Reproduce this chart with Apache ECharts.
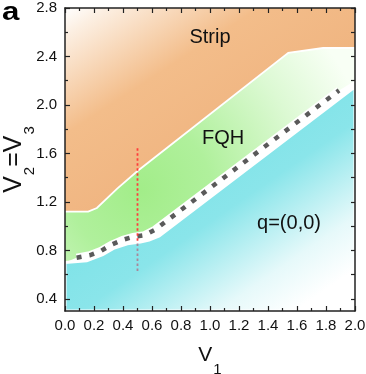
<!DOCTYPE html>
<html><head><meta charset="utf-8">
<script src="https://cdn.jsdelivr.net/npm/echarts@6/dist/echarts.min.js"></script>
<style>html,body{margin:0;padding:0;background:#fff}#c{width:366px;height:374px}</style>
</head><body><div id="c"></div>
<script>
// ---- data ----
const X_MIN = 0, X_MAX = 2.0, Y_MIN = 0.3, Y_MAX = 2.8;
const yMajorTicks = [0.4, 0.8, 1.2, 1.6, 2.0, 2.4, 2.8];
const yMinorTicks = [0.6, 1.0, 1.4, 1.8, 2.2, 2.6];
const yRightTicks = [0.4, 0.6, 0.8, 1.0, 1.2, 1.4, 1.6, 1.8, 2.0, 2.2, 2.4, 2.6, 2.8];
// Strip / FQH boundary
const stripLowerV1  = [0, 0.16, 0.22, 0.36, 0.5, 1.54, 1.78, 2.0];
const stripLowerV23 = [1.12, 1.12, 1.15, 1.31, 1.455, 2.43, 2.47, 2.47];
// lower edge of the FQH (green) region
const fqhLowerV1  = [0, 0.08, 0.17, 0.25, 0.32, 0.40, 0.47, 0.55, 0.62, 1.89, 2.0];
const fqhLowerV23 = [0.70, 0.74, 0.76, 0.797, 0.847, 0.888, 0.912, 0.926, 0.97, 2.12, 2.2];
// FQH / q=(0,0) boundary (top of cyan region)
const q00UpperV1  = [0, 0.15, 0.26, 0.34, 0.43, 0.52, 0.58, 0.65, 2.0];
const q00UpperV23 = [0.70, 0.715, 0.765, 0.82, 0.855, 0.87, 0.885, 0.92, 2.15];
// dashed transition line
const dashV1  = [0.08, 0.17, 0.25, 0.32, 0.40, 0.47, 0.55, 0.62, 1.89];
const dashV23 = [0.74, 0.76, 0.797, 0.847, 0.888, 0.912, 0.926, 0.97, 2.12];
// vertical cut at V1 = 0.5
const cutV1 = 0.5;
const cutRedV23 = [0.88, 1.66];
const cutGreyV23 = [0.63, 0.87];
// region labels
const regionNames = ['Strip', 'FQH', 'q=(0,0)'];
const regionV1 = [1.0, 1.09, 1.545];
const regionV23 = [2.56, 1.72, 1.02];

const FONT = '"Liberation Sans", Arial, Helvetica, sans-serif';

const chart = echarts.init(document.getElementById('c'), null, {renderer: 'canvas'});

function renderItem(params, api) {
  const c = (x, y) => api.coord([x, y]);
  const pts = (xs, ys) => xs.map((x, i) => c(x, ys[i]));
  const U = pts(stripLowerV1, stripLowerV23);
  const G = pts(fqhLowerV1, fqhLowerV23);
  const C = pts(q00UpperV1, q00UpperV23);
  const D = pts(dashV1, dashV23);
  const tl = c(X_MIN, Y_MAX), tr = c(X_MAX, Y_MAX), bl = c(X_MIN, Y_MIN), br = c(X_MAX, Y_MIN);

  const og0 = c(0, 2.8), og1 = c(0.724, 1.468);
  const orangeFill = new echarts.graphic.LinearGradient(og0[0], og0[1], og1[0], og1[1], [
    {offset: 0, color: '#ffffff'}, {offset: 0.12, color: '#fcefe2'},
    {offset: 0.55, color: '#f3bd8a'}, {offset: 1, color: '#f0b581'}], true);
  const gc = c(0.52, 1.3);
  const greenFill = new echarts.graphic.RadialGradient(gc[0], gc[1], 235, [
    {offset: 0, color: '#a2ed89'}, {offset: 0.3, color: '#b0f09c'},
    {offset: 0.7, color: '#dcf9d3'}, {offset: 1, color: '#f8fff5'}], true);
  const cg0 = c(0.59, 1.22), cg1 = c(1.27, 0.04);
  const cyanFill = new echarts.graphic.LinearGradient(cg0[0], cg0[1], cg1[0], cg1[1], [
    {offset: 0, color: '#80e3e8'}, {offset: 0.3, color: '#8ae5ea'},
    {offset: 0.75, color: '#e6f9fa'}, {offset: 1, color: '#ffffff'}], true);

  const children = [
    {type: 'polygon', shape: {points: [...U, tr, tl]}, style: {fill: orangeFill}},
    {type: 'polygon', shape: {points: [...G, ...U.slice().reverse()]}, style: {fill: greenFill}},
    {type: 'polygon', shape: {points: [...C, br, bl]}, style: {fill: cyanFill, stroke: '#ffffff', lineWidth: 3}},
    {type: 'polyline', shape: {points: U}, style: {stroke: '#ffffff', lineWidth: 1.8, fill: null}},
    {type: 'polyline', shape: {points: D}, style: {stroke: '#ffffff', lineWidth: 8, fill: null}},
    {type: 'polyline', shape: {points: D}, style: {stroke: '#5a5a5a', lineWidth: 4.5, lineDash: [5, 8], lineCap: 'butt', fill: null}},
    {type: 'line', shape: (function(){const a=c(cutV1,cutGreyV23[0]), b=c(cutV1,cutGreyV23[1]); return {x1:a[0],y1:a[1],x2:b[0],y2:b[1]};})(),
      style: {stroke: '#a8879a', lineWidth: 1.8, lineDash: [2.5, 2.5]}},
    {type: 'line', shape: (function(){const a=c(cutV1,cutRedV23[0]), b=c(cutV1,cutRedV23[1]); return {x1:a[0],y1:a[1],x2:b[0],y2:b[1]};})(),
      style: {stroke: '#ff3b3b', lineWidth: 1.8, lineDash: [2.5, 2.5]}}
  ];
  regionNames.forEach((t, i) => {
    const p = c(regionV1[i], regionV23[i]);
    children.push({type: 'text', x: p[0], y: p[1], style: {text: t, fill: '#111', font: '20px ' + FONT, align: 'center', verticalAlign: 'middle'}});
  });
  return {type: 'group', children};
}

const lineStyle = {color: '#222', width: 1.5};
const tickStyle = {color: '#222', width: 1.2};
const labelFmt = v => Number(v).toFixed(1);

chart.setOption({
  animation: false,
  backgroundColor: '#ffffff',
  grid: {left: 65, right: 11, top: 8, bottom: 63, containLabel: false, outerBoundsMode: 'none'},
  xAxis: [
    {type: 'value', min: X_MIN, max: X_MAX, interval: 0.2, position: 'bottom', z: 10,
     axisLine: {show: true, onZero: false, lineStyle},
     axisTick: {show: true, inside: true, length: 5, lineStyle: tickStyle},
     minorTick: {show: true, splitNumber: 2, length: 3, lineStyle: tickStyle},
     splitLine: {show: false}, minorSplitLine: {show: false},
     axisLabel: {margin: 7, fontSize: 15, color: '#111', fontFamily: FONT, formatter: labelFmt},
     name: '{v|V}{s|1}', nameLocation: 'middle', nameGap: 34, nameMoveOverlap: false,
     nameTextStyle: {color: '#111', fontFamily: FONT, rich: {
       v: {fontSize: 21, fontFamily: FONT, color: '#111', lineHeight: 22, verticalAlign: 'top'},
       s: {fontSize: 15, fontFamily: FONT, color: '#111', lineHeight: 14, padding: [17, 0, 0, 1], verticalAlign: 'top'}}}},
    {type: 'value', min: X_MIN, max: X_MAX, interval: 0.2, position: 'top', z: 10,
     axisLine: {show: true, onZero: false, lineStyle},
     axisTick: {show: true, inside: true, length: 5, lineStyle: tickStyle},
     minorTick: {show: true, splitNumber: 2, length: 3, lineStyle: tickStyle},
     splitLine: {show: false}, minorSplitLine: {show: false}, axisLabel: {show: false}}
  ],
  yAxis: [
    {type: 'value', min: Y_MIN, max: Y_MAX, position: 'left', z: 10,
     axisLine: {show: true, onZero: false, lineStyle},
     axisTick: {show: true, inside: true, length: 5, lineStyle: tickStyle, customValues: yMajorTicks},
     axisLabel: {margin: 8, fontSize: 15, color: '#111', fontFamily: FONT, formatter: labelFmt, customValues: yMajorTicks},
     splitLine: {show: false},
     name: '{v|V}{s|2}{v|=V}{s|3}', nameLocation: 'middle', nameGap: 37, nameMoveOverlap: false,
     nameTextStyle: {color: '#111', fontFamily: FONT, rich: {
       v: {fontSize: 25, fontFamily: FONT, color: '#111', lineHeight: 26, verticalAlign: 'top'},
       s: {fontSize: 15, fontFamily: FONT, color: '#111', lineHeight: 14, padding: [20, 0, 0, 1], verticalAlign: 'top'}}}},
    {type: 'value', min: Y_MIN, max: Y_MAX, position: 'left', z: 10,
     axisLine: {show: false},
     axisTick: {show: true, inside: true, length: 3, lineStyle: tickStyle, customValues: yMinorTicks},
     axisLabel: {show: false}, splitLine: {show: false}},
    {type: 'value', min: Y_MIN, max: Y_MAX, position: 'right', z: 10,
     axisLine: {show: true, onZero: false, lineStyle},
     axisTick: {show: true, inside: true, length: 4, lineStyle: tickStyle, customValues: yRightTicks},
     axisLabel: {show: false}, splitLine: {show: false}}
  ],
  graphic: [{type: 'text', left: 2, top: 1, z: 100,
    style: {text: 'a', font: 'bold 25px ' + FONT, fill: '#000'}, scaleX: 1.25}],
  series: [{
    type: 'custom', coordinateSystem: 'cartesian2d', xAxisIndex: 0, yAxisIndex: 0,
    renderItem, data: [[0, 0]], clip: true, silent: true, z: 1
  }]
});
</script></body></html>
